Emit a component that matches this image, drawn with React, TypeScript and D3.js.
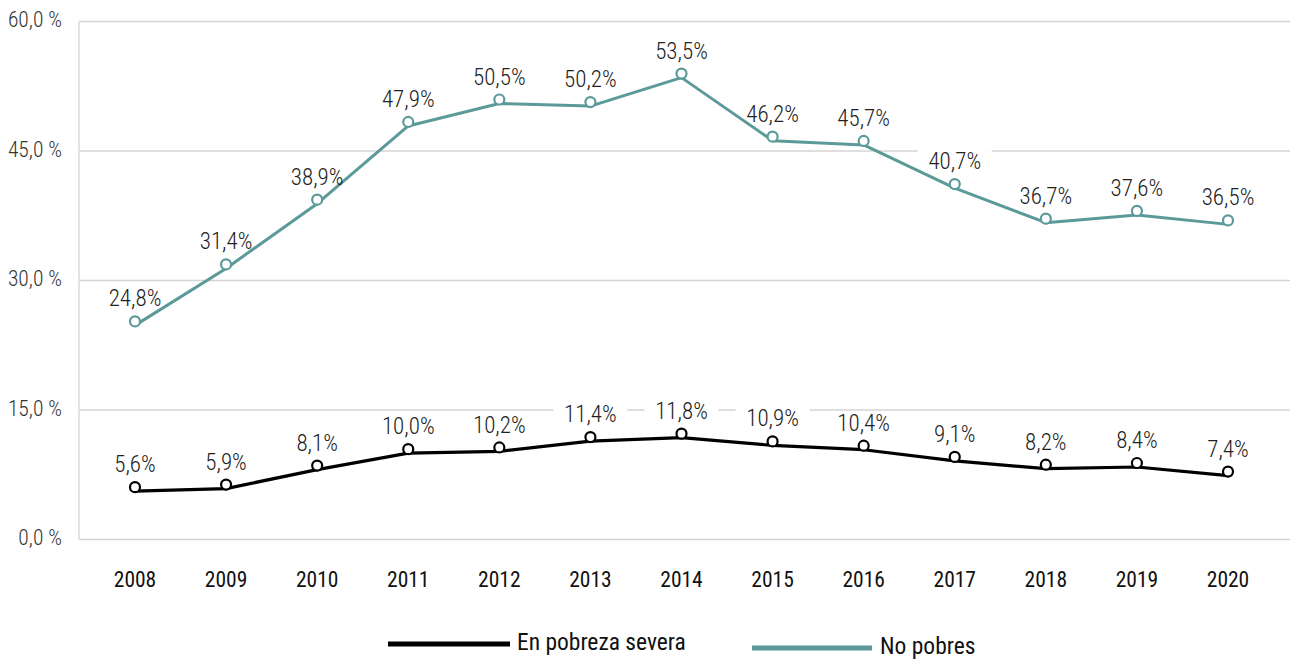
import React from "react";
import * as d3 from "d3";

const years = ["2008", "2009", "2010", "2011", "2012", "2013", "2014", "2015", "2016", "2017", "2018", "2019", "2020"];
const severa = [5.6, 5.9, 8.1, 10.0, 10.2, 11.4, 11.8, 10.9, 10.4, 9.1, 8.2, 8.4, 7.4];
const noPobres = [24.8, 31.4, 38.9, 47.9, 50.5, 50.2, 53.5, 46.2, 45.7, 40.7, 36.7, 37.6, 36.5];
const yTicks = [0, 15, 30, 45, 60];
const seriesNames = ["En pobreza severa", "No pobres"];

const W = 1290;
const H = 659;
const FONT = "Roboto, 'Roboto Condensed', 'Liberation Sans Narrow', sans-serif";
const TEAL = "#5B9A99";
const BLACK = "#000000";

const fmt = (v: number) => v.toFixed(1).replace(".", ",") + "%";
const fmtTick = (v: number) => v.toFixed(1).replace(".", ",") + " %";

export default function App() {
  const x = d3.scalePoint<string>().domain(years).range([135, 1228]);
  const y = d3.scaleLinear().domain([0, 60]).range([539.5, 21.5]);
  const plotLeft = 79;
  const plotRight = 1290;

  const line = d3
    .line<number>()
    .x((_, i) => x(years[i]) as number)
    .y((d) => y(d));

  const series = [
    { name: seriesNames[0], values: severa, color: BLACK, width: 3.2 },
    { name: seriesNames[1], values: noPobres, color: TEAL, width: 3 },
  ];

  const markerDy = -4;
  const labelDy = -21;
  const labelFont = 23;

  const labelItems = series.flatMap((s) =>
    s.values.map((v, i) => {
      const cx = x(years[i]) as number;
      const cy = y(v) + markerDy + labelDy;
      const txt = fmt(v);
      const w = txt.length * 12 + 14;
      return { key: s.name + i, cx, cy, txt, w };
    })
  );

  return (
    <svg
      width={W}
      height={H}
      style={{ position: "absolute", left: 0, top: 0, fontFamily: FONT, fontStretch: "condensed" as any }}
    >
      <rect x={0} y={0} width={W} height={H} fill="#ffffff" />
      {/* gridlines */}
      {yTicks.map((t) => (
        <line key={"g" + t} x1={plotLeft} x2={plotRight} y1={y(t)} y2={y(t)} stroke="#d4d4d4" strokeWidth={1.3} />
      ))}
      <line x1={plotLeft} x2={plotLeft} y1={y(60)} y2={y(0)} stroke="#d4d4d4" strokeWidth={1.3} />
      {/* y tick labels */}
      {yTicks.map((t) => (
        <text key={"yt" + t} x={62} y={y(t)} textAnchor="end" dominantBaseline="middle" fontSize={21.5} fontWeight={300} fill="#333333">
          {fmtTick(t)}
        </text>
      ))}
      {/* x tick labels */}
      {years.map((yr) => (
        <text key={"xt" + yr} x={x(yr)} y={581} textAnchor="middle" dominantBaseline="middle" fontSize={21.5} fill="#111111">
          {yr}
        </text>
      ))}
      {/* label backgrounds (hide gridlines) */}
      {labelItems.map((l) => (
        <rect key={"bg" + l.key} x={l.cx - l.w / 2} y={l.cy - 13} width={l.w} height={26} fill="#ffffff" />
      ))}
      {/* lines */}
      {series.map((s) => (
        <path key={"l" + s.name} d={line(s.values) || ""} fill="none" stroke={s.color} strokeWidth={s.width} strokeLinejoin="round" />
      ))}
      {/* markers */}
      {series.map((s) =>
        s.values.map((v, i) => (
          <circle
            key={"m" + s.name + i}
            cx={x(years[i])}
            cy={y(v) + markerDy}
            r={5}
            fill="#ffffff"
            stroke={s.color}
            strokeWidth={2.2}
          />
        ))
      )}
      {/* labels */}
      {labelItems.map((l) => (
        <text key={"t" + l.key} x={l.cx} y={l.cy} textAnchor="middle" dominantBaseline="middle" fontSize={labelFont} fontWeight={300} fill="#222222">
          {l.txt}
        </text>
      ))}
      {/* legend */}
      <line x1={388} x2={510} y1={644} y2={644} stroke={BLACK} strokeWidth={5} />
      <text x={517} y={644} dominantBaseline="middle" fontSize={23.5} fill="#111111">
        {seriesNames[0]}
      </text>
      <line x1={752} x2={872} y1={648} y2={648} stroke={TEAL} strokeWidth={5} />
      <text x={880} y={648} dominantBaseline="middle" fontSize={23.5} fill="#111111">
        {seriesNames[1]}
      </text>
    </svg>
  );
}
